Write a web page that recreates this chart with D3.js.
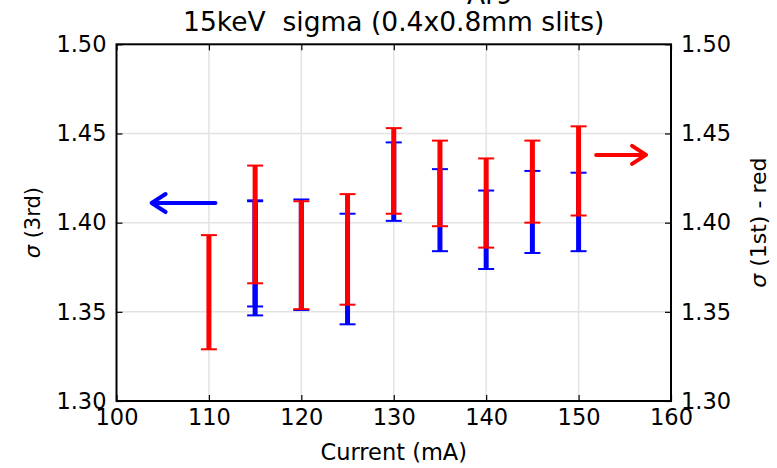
<!DOCTYPE html>
<html>
<head>
<meta charset="utf-8">
<script src="https://cdn.jsdelivr.net/npm/d3@7"></script>
<style>
  html, body { margin: 0; padding: 0; background: #fff; }
  svg text { font-family: "DejaVu Sans", sans-serif; fill: #000; white-space: pre; }
</style>
</head>
<body>
<svg id="chart" width="777" height="468"></svg>
<script>
// Beam current (mA)
const xTicks = [100, 110, 120, 130, 140, 150, 160];
const yTicks = [1.30, 1.35, 1.40, 1.45, 1.50];
const yTickLabels = ["1.30", "1.35", "1.40", "1.45", "1.50"];

// sigma from 3rd-order fit (blue): current, low, high
const blueCurrent = [115, 115, 120, 125, 130, 135, 140, 145, 150];
const blueLow     = [1.353, 1.348, 1.351, 1.343, 1.401, 1.384, 1.374, 1.383, 1.384];
const blueHigh    = [1.4125, 1.412, 1.413, 1.405, 1.445, 1.430, 1.418, 1.429, 1.428];

// sigma from 1st-order fit (red): current, low, high
const redCurrent = [110, 115, 120, 125, 130, 135, 140, 145, 150];
const redLow     = [1.329, 1.366, 1.3515, 1.354, 1.405, 1.398, 1.386, 1.400, 1.404];
const redHigh    = [1.393, 1.432, 1.412, 1.416, 1.453, 1.446, 1.436, 1.446, 1.454];

// axis indicator arrows: [x from, x to, y]
const blueArrow = [110.7, 103.8, 1.411];
const redArrow  = [151.9, 157.3, 1.438];

const svg = d3.select("#chart");
const m = { left: 116.5, right: 671, top: 44.3, bottom: 401 };

const x = d3.scaleLinear().domain([100, 160]).range([m.left, m.right]);
const y = d3.scaleLinear().domain([1.30, 1.50]).range([m.bottom, m.top]);

// grid
const grid = svg.append("g").attr("stroke", "#e3e3e3").attr("stroke-width", 1.5);
grid.selectAll("line.gx").data(xTicks.slice(1, -1)).join("line")
  .attr("x1", d => x(d)).attr("x2", d => x(d)).attr("y1", m.top).attr("y2", m.bottom);
grid.selectAll("line.gy").data(yTicks.slice(1, -1)).join("line")
  .attr("y1", d => y(d)).attr("y2", d => y(d)).attr("x1", m.left).attr("x2", m.right);

// error bars
function errorBars(cur, lo, hi, color) {
  const data = cur.map((c, i) => ({ c, lo: lo[i], hi: hi[i] }));
  const g = svg.append("g");
  g.selectAll("line.bar").data(data).join("line")
    .attr("x1", d => x(d.c)).attr("x2", d => x(d.c))
    .attr("y1", d => y(d.lo)).attr("y2", d => y(d.hi))
    .attr("stroke", color).attr("stroke-width", 5);
  const caps = data.flatMap(d => [{ c: d.c, v: d.lo }, { c: d.c, v: d.hi }]);
  g.selectAll("line.cap").data(caps).join("line")
    .attr("x1", d => x(d.c) - 8).attr("x2", d => x(d.c) + 8)
    .attr("y1", d => y(d.v)).attr("y2", d => y(d.v))
    .attr("stroke", color).attr("stroke-width", 2);
}
errorBars(blueCurrent, blueLow, blueHigh, "#0000ff");
errorBars(redCurrent, redLow, redHigh, "#ff0000");

// arrows pointing at the axis each series belongs to
function arrow(a, color) {
  const x0 = x(a[0]), x1 = x(a[1]), yy = y(a[2]);
  const dir = Math.sign(x1 - x0);
  const g = svg.append("g").attr("stroke", color).attr("stroke-width", 4)
    .attr("fill", "none").attr("stroke-linecap", "round").attr("stroke-linejoin", "round");
  g.append("line").attr("x1", x0).attr("x2", x1 - dir * 1).attr("y1", yy).attr("y2", yy);
  g.append("path").attr("d", `M${x1 - dir * 14},${yy - 9} L${x1},${yy} L${x1 - dir * 14},${yy + 9}`);
}
arrow(blueArrow, "#0000ff");
arrow(redArrow, "#ff0000");

// axes (ticks inside)
const fmtY = d => yTickLabels[yTicks.indexOf(d)];
const fs = 22.5;
svg.append("g").attr("transform", `translate(0,${m.bottom})`)
  .call(d3.axisBottom(x).tickValues(xTicks).tickSizeInner(-6).tickSizeOuter(0).tickPadding(8))
  .call(g => g.select(".domain").remove());
svg.append("g").attr("transform", `translate(0,${m.top})`)
  .call(d3.axisTop(x).tickValues(xTicks).tickSizeInner(-6).tickSizeOuter(0).tickFormat(""))
  .call(g => g.select(".domain").remove());
svg.append("g").attr("transform", `translate(${m.left},0)`)
  .call(d3.axisLeft(y).tickValues(yTicks).tickFormat(fmtY).tickSizeInner(-6).tickSizeOuter(0).tickPadding(10))
  .call(g => g.select(".domain").remove());
svg.append("g").attr("transform", `translate(${m.right},0)`)
  .call(d3.axisRight(y).tickValues(yTicks).tickFormat(fmtY).tickSizeInner(-6).tickSizeOuter(0).tickPadding(10))
  .call(g => g.select(".domain").remove());
svg.selectAll(".tick line").attr("stroke", "#000").attr("stroke-width", 1.2);
svg.selectAll(".tick text").attr("font-size", fs).attr("font-family", "DejaVu Sans");

// frame
svg.append("rect").attr("x", m.left).attr("y", m.top)
  .attr("width", m.right - m.left).attr("height", m.bottom - m.top)
  .attr("fill", "none").attr("stroke", "#000").attr("stroke-width", 2);

// titles and labels
svg.append("text").attr("x", 490).attr("y", 4).attr("text-anchor", "middle")
  .attr("font-size", 26.5).text("Ar9");
svg.append("text").attr("x", (m.left + m.right) / 2).attr("y", 31).attr("text-anchor", "middle")
  .attr("font-size", 26.5).attr("xml:space", "preserve").text("15keV  sigma (0.4x0.8mm slits)");
svg.append("text").attr("x", (m.left + m.right) / 2).attr("y", 460).attr("text-anchor", "middle")
  .attr("font-size", 22.5).text("Current (mA)");

function sigmaLabel(tx, rest, size) {
  const t = svg.append("text").attr("transform", `translate(${tx},${(m.top + m.bottom) / 2}) rotate(-90)`)
    .attr("text-anchor", "middle").attr("font-size", size);
  t.append("tspan").attr("font-style", "italic").text("σ");
  t.append("tspan").text(rest);
}
sigmaLabel(40, " (3rd)", 21);
sigmaLabel(766, " (1st) - red", 22);
</script>
</body>
</html>
